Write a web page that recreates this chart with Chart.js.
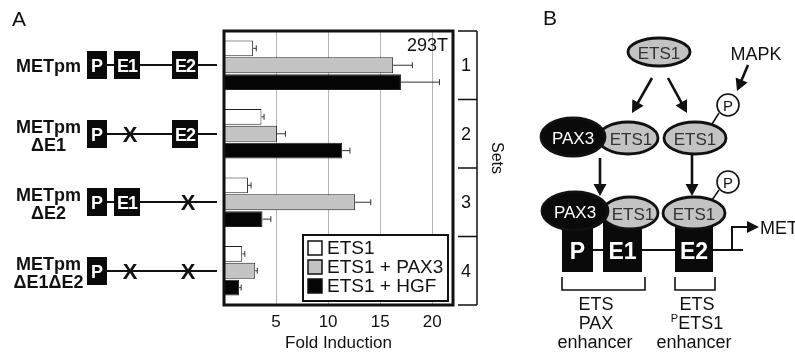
<!DOCTYPE html>
<html><head><meta charset="utf-8">
<script src="https://cdn.jsdelivr.net/npm/chart.js@4/dist/chart.umd.min.js"></script>
<style>
body{margin:0;background:#fff;}
#wrap{position:relative;width:795px;height:358px;overflow:hidden;background:#fff;}
#c{position:absolute;left:0;top:0;}
#ov{position:absolute;left:0;top:0;}
</style></head><body>
<div id="wrap"><canvas id="c" width="795" height="358"></canvas><svg id="ov" width="795" height="358" xmlns="http://www.w3.org/2000/svg"></svg></div>
<script>
// ---- data ----
const sets = ['1', '2', '3', '4'];
const seriesLabels = ['ETS1', 'ETS1 + PAX3', 'ETS1 + HGF'];
const ets1 = [2.8, 3.6, 2.3, 1.75];
const ets1Pax3 = [16.25, 5.1, 12.6, 3.0];
const ets1Hgf = [17.0, 11.35, 3.7, 1.45];
const ets1Err = [0.3, 0.25, 0.3, 0.25];
const ets1Pax3Err = [1.85, 0.8, 1.5, 0.2];
const ets1HgfErr = [3.7, 0.75, 0.8, 0.2];
const xTicks = [5, 10, 15, 20];
const constructNames = [['METpm'], ['METpm', '\u0394E1'], ['METpm', '\u0394E2'], ['METpm', '\u0394E1\u0394E2']];
const constructParts = [['P', 'E1', 'E2'], ['P', 'X', 'E2'], ['P', 'E1', 'X'], ['P', 'X', 'X']];

const FONT = "'Liberation Sans', Arial, Helvetica, sans-serif";
Chart.defaults.font.family = FONT;
Chart.defaults.color = '#111';

const errs = [ets1Err, ets1Pax3Err, ets1HgfErr];

const figPlugin = {
  id: 'figPlugin',
  afterDatasetsDraw(chart) {
    const ctx = chart.ctx, a = chart.chartArea, xs = chart.scales.x, ys = chart.scales.y;
    // error bars
    ctx.save();
    ctx.strokeStyle = '#333'; ctx.lineWidth = 1;
    chart.data.datasets.forEach((ds, di) => {
      const meta = chart.getDatasetMeta(di);
      meta.data.forEach((bar, i) => {
        const xe = xs.getPixelForValue(ds.data[i] + errs[di][i]);
        ctx.beginPath();
        ctx.moveTo(bar.x, bar.y); ctx.lineTo(xe, bar.y);
        ctx.moveTo(xe, bar.y - 3); ctx.lineTo(xe, bar.y + 3);
        ctx.stroke();
      });
    });
    // 293T
    ctx.fillStyle = '#111';
    ctx.font = '18px ' + FONT;
    ctx.textAlign = 'right'; ctx.textBaseline = 'alphabetic';
    ctx.fillText('293T', a.right - 5, a.top + 20);
    // legend box
    const lx = a.right - 150, ly = a.bottom - 70, lw = 145, lh = 66;
    ctx.fillStyle = '#fff';
    ctx.fillRect(lx, ly, lw, lh);
    ctx.lineWidth = 2; ctx.strokeStyle = '#111';
    ctx.strokeRect(lx, ly, lw, lh);
    ctx.font = '19px ' + FONT; ctx.textAlign = 'left'; ctx.textBaseline = 'middle';
    chart.data.datasets.forEach((ds, di) => {
      const cy = ly + 13 + di * 19;
      ctx.fillStyle = ds.backgroundColor;
      ctx.fillRect(lx + 5, cy - 7, 14, 14);
      ctx.lineWidth = 1.5; ctx.strokeStyle = '#111';
      ctx.strokeRect(lx + 5, cy - 7, 14, 14);
      ctx.fillStyle = '#111';
      ctx.fillText(ds.label, lx + 24, cy + 1);
    });
    // plot frame
    ctx.lineWidth = 3; ctx.strokeStyle = '#111';
    ctx.strokeRect(a.left, a.top, a.right - a.left, a.bottom - a.top);
    // sets bracket
    const bx = a.right + 24;
    ctx.lineWidth = 1.5;
    ctx.beginPath();
    ctx.moveTo(bx, a.top); ctx.lineTo(bx, a.bottom);
    const step = ys.getPixelForValue(1) - ys.getPixelForValue(0);
    for (let i = 0; i <= sets.length; i++) {
      const y = ys.getPixelForValue(i) - step / 2;
      ctx.moveTo(a.right + 5, y); ctx.lineTo(bx, y);
    }
    ctx.stroke();
    ctx.fillStyle = '#111'; ctx.font = '18px ' + FONT; ctx.textAlign = 'center'; ctx.textBaseline = 'middle';
    sets.forEach((s, i) => ctx.fillText(s, a.right + 13, ys.getPixelForValue(i) + 1));
    ctx.restore();
  }
};

const chart = new Chart(document.getElementById('c'), {
  type: 'bar',
  data: {
    labels: sets,
    datasets: [
      { label: seriesLabels[0], data: ets1, backgroundColor: '#ffffff' },
      { label: seriesLabels[1], data: ets1Pax3, backgroundColor: '#c4c4c4' },
      { label: seriesLabels[2], data: ets1Hgf, backgroundColor: '#050505' }
    ]
  },
  options: {
    indexAxis: 'y',
    responsive: false,
    animation: false,
    devicePixelRatio: 1,
    layout: { padding: { left: 224, right: 342, top: 31, bottom: 0 } },
    datasets: { bar: { borderColor: '#222', borderWidth: 1, categoryPercentage: 0.74, barPercentage: 0.94 } },
    plugins: { legend: { display: false }, tooltip: { enabled: false } },
    scales: {
      y: { display: false },
      x: {
        min: 0, max: 22,
        afterBuildTicks: s => { s.ticks = xTicks.map(v => ({ value: v })); },
        afterFit: s => { s.height = 53; },
        ticks: { font: { size: 17 }, color: '#111', padding: 7 },
        grid: { color: '#b5b5b5', lineWidth: 1, drawTicks: false },
        border: { display: false },
        title: { display: true, text: 'Fold Induction', font: { size: 17 }, color: '#111', padding: { top: 2, bottom: 4 } }
      }
    }
  },
  plugins: [figPlugin]
});

// ---- overlay diagrams ----
const ys = chart.scales.y;
let s = '';
function T(x, y, str, size, opts = {}) {
  return `<text x="${x}" y="${y}" font-family="${FONT.replace(/'/g, '')}" font-size="${size}" ${opts.bold ? 'font-weight="bold"' : ''} fill="${opts.fill || '#111'}" text-anchor="${opts.anchor || 'middle'}" ${opts.extra || ''}>${str}</text>`;
}
function L(x1, y1, x2, y2, w = 2) { return `<line x1="${x1}" y1="${y1}" x2="${x2}" y2="${y2}" stroke="#111" stroke-width="${w}"/>`; }
function arrow(x1, y1, x2, y2, w = 2.6, head = 12, hw = 6.5) {
  const dx = x2 - x1, dy = y2 - y1, len = Math.hypot(dx, dy), ux = dx / len, uy = dy / len;
  const bx = x2 - ux * head, by = y2 - uy * head, px = -uy, py = ux;
  return L(x1, y1, bx + ux * 2, by + uy * 2, w) +
    `<polygon points="${x2},${y2} ${bx + px * hw},${by + py * hw} ${bx - px * hw},${by - py * hw}" fill="#111"/>`;
}
function ell(cx, cy, rx, ry, fill) { return `<ellipse cx="${cx}" cy="${cy}" rx="${rx}" ry="${ry}" fill="${fill}" stroke="#111" stroke-width="2.8"/>`; }

// Panel A
s += T(12, 26, 'A', 21, { anchor: 'start' });
const partX = [97, 127, 185];
const partW = [20, 26, 26];
constructNames.forEach((nm, i) => {
  const y = Math.round(ys.getPixelForValue(i));
  s += L(107, y, 217, y, 2);
  if (nm.length === 1) {
    s += T(48.5, y + 6.5, nm[0], 18, { bold: true });
  } else {
    s += T(48.5, y - 1, nm[0], 18, { bold: true });
    s += T(48.5, y + 17, nm[1], 18, { bold: true });
  }
  constructParts[i].forEach((p, k) => {
    if (p === 'X') {
      s += T(partX[k] + 3, y + 8, 'X', 22, { bold: true });
    } else {
      s += `<rect x="${partX[k] - partW[k] / 2}" y="${y - 14}" width="${partW[k]}" height="28" fill="#0a0a0a"/>`;
      s += T(partX[k], y + 6.5, p, 18, { bold: true, fill: '#fff', extra: p === 'P' ? '' : 'letter-spacing="-1"' });
    }
  });
});
s += T(0, 0, 'Sets', 16, { extra: 'transform="translate(492,158) rotate(90)"' });

// Panel B
s += T(543, 25, 'B', 21, { anchor: 'start' });
s += ell(659, 52, 31, 14, '#c3c3c3') + T(659, 58.5, 'ETS1', 17, { fill: '#333' });
s += T(756, 60, 'MAPK', 18);
s += arrow(748, 65, 737, 91);
s += arrow(652, 78, 632, 113);
s += arrow(668, 78, 687, 113);
// upper P
s += L(719, 113, 712, 124, 1.5);
s += `<circle cx="728" cy="105" r="11" fill="#fff" stroke="#111" stroke-width="1.6"/>` + T(728, 110.5, 'P', 15);
// middle row
s += ell(628, 138, 30, 16, '#c3c3c3') + T(631, 144.5, 'ETS1', 17, { fill: '#333' });
s += ell(573, 137, 32, 19, '#0a0a0a') + T(573, 143.5, 'PAX3', 17, { fill: '#fff' });
s += ell(695, 138, 31, 16, '#c3c3c3') + T(695, 144.5, 'ETS1', 17, { fill: '#333' });
s += arrow(600, 158, 600, 196);
s += arrow(692, 155, 692, 196);
// lower P
s += L(719, 190, 712, 200, 1.5);
s += `<circle cx="728" cy="182" r="11" fill="#fff" stroke="#111" stroke-width="1.6"/>` + T(728, 187.5, 'P', 15);
// promoter line and boxes
s += L(593, 250, 743, 250, 2);
s += `<polyline points="732,250 732,227 748,227" fill="none" stroke="#111" stroke-width="2"/>`;
s += `<polygon points="759,227 747,221 747,233" fill="#111"/>`;
s += T(760, 233.5, 'MET', 18, { anchor: 'start' });
s += `<rect x="562" y="220" width="31" height="52" fill="#0a0a0a"/>`;
s += `<rect x="603" y="220" width="39" height="52" fill="#0a0a0a"/>`;
s += `<rect x="675" y="220" width="38" height="52" fill="#0a0a0a"/>`;
s += ell(630, 213, 28, 16, '#c3c3c3') + T(633, 219.5, 'ETS1', 17, { fill: '#333' });
s += ell(575, 211, 33, 19, '#0a0a0a') + T(575, 217.5, 'PAX3', 17, { fill: '#fff' });
s += ell(694, 213, 31, 16, '#c3c3c3') + T(694, 219.5, 'ETS1', 17, { fill: '#333' });
s += T(577.5, 259, 'P', 23, { bold: true, fill: '#fff' });
s += T(622.5, 259, 'E1', 23, { bold: true, fill: '#fff' });
s += T(694, 259, 'E2', 23, { bold: true, fill: '#fff' });
// brackets
s += `<polyline points="562,277 562,290 645,290 645,277" fill="none" stroke="#111" stroke-width="1.6"/>`;
s += `<polyline points="675,277 675,290 715,290 715,277" fill="none" stroke="#111" stroke-width="1.6"/>`;
s += T(596, 310, 'ETS', 18) + T(596, 329, 'PAX', 18) + T(595, 348, 'enhancer', 18);
s += T(697, 310, 'ETS', 18) + T(697, 329, '<tspan font-size="11" dy="-7">P</tspan><tspan dy="7">ETS1</tspan>', 18) + T(694, 348, 'enhancer', 18);
document.getElementById('ov').innerHTML = s;
</script>
</body></html>
